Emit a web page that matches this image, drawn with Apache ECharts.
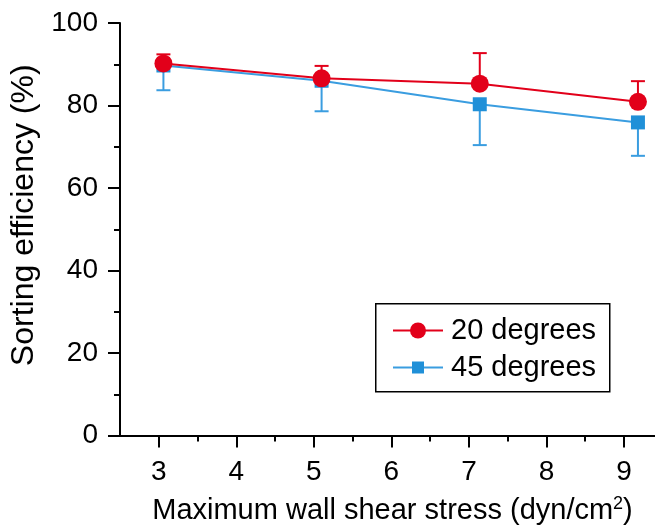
<!DOCTYPE html>
<html>
<head>
<meta charset="utf-8">
<script src="https://cdn.jsdelivr.net/npm/echarts@6/dist/echarts.min.js"></script>
<style>
html,body{margin:0;padding:0;background:#fff;}
#chart{width:655px;height:530px;}
</style>
</head>
<body>
<div id="chart"></div>
<script>
// Data
const shearStress = [3.06, 5.1, 7.14, 9.18];
const eff20 = [90.2, 86.6, 85.3, 80.9];
const err20 = [2.2, 3.0, 7.4, 5.0];     // upper error bars
const eff45 = [89.7, 86.0, 80.3, 75.9];
const err45 = [6.0, 7.4, 9.9, 8.1];     // lower error bars
const xMajorTicks = [3, 4, 5, 6, 7, 8, 9];
const xMinorTicks = [3.5, 4.5, 5.5, 6.5, 7.5, 8.5];
const seriesNames = ['20 degrees', '45 degrees'];

const RED = '#e2001a';
const BLUE = '#2090d8';
const BLUE_LINE = '#3a9de0';
const FONT = 'Liberation Sans, Arial, Helvetica, sans-serif';

const line20 = shearStress.map((x, i) => [x, eff20[i]]);
const line45 = shearStress.map((x, i) => [x, eff45[i]]);
const bars20 = shearStress.map((x, i) => [x, eff20[i], eff20[i] + err20[i]]);
const bars45 = shearStress.map((x, i) => [x, eff45[i], eff45[i] - err45[i]]);

function errRender(color) {
  return function (params, api) {
    const x = api.value(0);
    const p1 = api.coord([x, api.value(1)]);
    const p2 = api.coord([x, api.value(2)]);
    const cap = 7;
    const style = { stroke: color, lineWidth: 2, fill: null };
    return {
      type: 'group',
      children: [
        { type: 'line', shape: { x1: p1[0], y1: p1[1], x2: p2[0], y2: p2[1] }, style: style },
        { type: 'line', shape: { x1: p2[0] - cap, y1: p2[1], x2: p2[0] + cap, y2: p2[1] }, style: style }
      ]
    };
  };
}

const chart = echarts.init(document.getElementById('chart'), null, { renderer: 'canvas' });
chart.setOption({
  animation: false,
  backgroundColor: '#fff',
  textStyle: { fontFamily: FONT },
  grid: { left: 117, top: 23, right: 0, bottom: 88, containLabel: false },
  xAxis: [
    {
      type: 'value', min: 2.5, max: 9.4, position: 'bottom',
      name: 'Maximum wall shear stress (dyn/cm{sup|2})',
      nameLocation: 'middle', nameGap: 60,
      nameTextStyle: {
        fontSize: 29, color: '#000', fontFamily: FONT, padding: [0, 0, 0, 10],
        rich: { sup: { fontSize: 18, verticalAlign: 'top', color: '#000', fontFamily: FONT, padding: [0, 0, 12, 0] } }
      },
      axisLine: { show: true, lineStyle: { color: '#000', width: 2 } },
      axisTick: { show: true, customValues: xMajorTicks, length: 12, lineStyle: { color: '#000', width: 2 } },
      axisLabel: { show: true, customValues: xMajorTicks, margin: 23, fontSize: 28, color: '#000', fontFamily: FONT },
      splitLine: { show: false }
    },
    {
      type: 'value', min: 2.5, max: 9.4, position: 'bottom',
      axisLine: { show: false },
      axisTick: { show: true, customValues: xMinorTicks, length: 6, lineStyle: { color: '#000', width: 2 } },
      axisLabel: { show: false },
      splitLine: { show: false }
    }
  ],
  yAxis: {
    type: 'value', min: 0, max: 100, interval: 20,
    name: 'Sorting efficiency (%)',
    nameLocation: 'middle', nameGap: 80,
    nameTextStyle: { fontSize: 32, color: '#000', fontFamily: FONT, padding: [0, 0, 0, 28] },
    axisLine: { show: true, lineStyle: { color: '#000', width: 2 } },
    axisTick: { show: true, length: 12, lineStyle: { color: '#000', width: 2 } },
    minorTick: { show: true, splitNumber: 2, length: 6, lineStyle: { color: '#000', width: 2 } },
    axisLabel: { margin: 22, fontSize: 28, color: '#000', fontFamily: FONT },
    splitLine: { show: false }
  },
  legend: [
    {
      data: [seriesNames[0]], left: 387, top: 311, itemWidth: 50, itemHeight: 20,
      selectedMode: false,
      textStyle: { fontSize: 29, color: '#000', fontFamily: FONT, lineHeight: 28, padding: [0, 0, 0, 3] }
    },
    {
      data: [seriesNames[1]], left: 387, top: 348, itemWidth: 50, itemHeight: 15,
      selectedMode: false,
      textStyle: { fontSize: 29, color: '#000', fontFamily: FONT, lineHeight: 28, padding: [0, 0, 0, 3] }
    }
  ],
  graphic: [
    {
      type: 'rect', left: 375, top: 303, z: 3,
      shape: { width: 234, height: 88 },
      style: { fill: '#fff', stroke: '#000', lineWidth: 1.5 }
    }
  ],
  series: [
    {
      type: 'custom', name: 'err45', xAxisIndex: 0, z: 2,
      data: bars45, renderItem: errRender(BLUE_LINE), silent: true
    },
    {
      type: 'line', name: seriesNames[1], xAxisIndex: 0, z: 3,
      data: line45, symbol: 'rect', symbolSize: 14,
      itemStyle: { color: BLUE },
      lineStyle: { color: BLUE_LINE, width: 2 }
    },
    {
      type: 'custom', name: 'err20', xAxisIndex: 0, z: 4,
      data: bars20, renderItem: errRender(RED), silent: true
    },
    {
      type: 'line', name: seriesNames[0], xAxisIndex: 0, z: 5,
      data: line20, symbol: 'circle', symbolSize: 18,
      itemStyle: { color: RED },
      lineStyle: { color: RED, width: 2 }
    }
  ]
});
</script>
</body>
</html>
